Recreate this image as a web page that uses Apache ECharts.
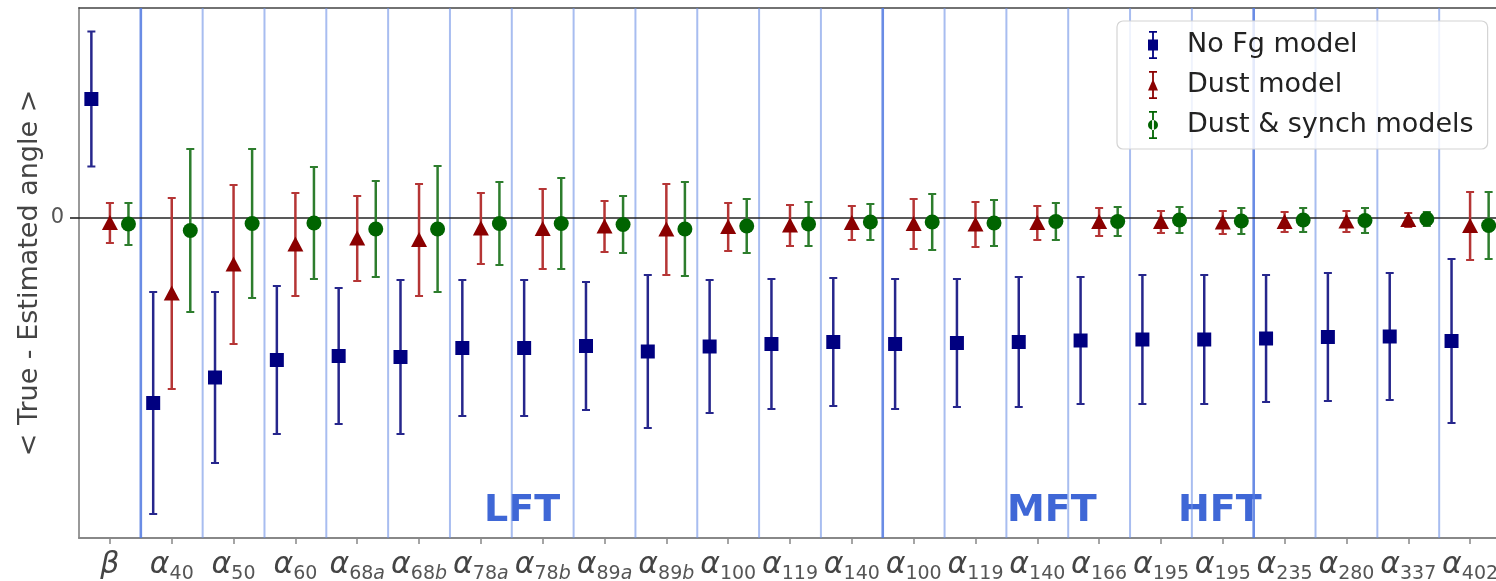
<!DOCTYPE html>
<html>
<head>
<meta charset="utf-8">
<script src="https://cdn.jsdelivr.net/npm/echarts@6/dist/echarts.min.js"></script>
<style>
  html, body { margin: 0; padding: 0; background: #ffffff; }
  #chart { width: 1496px; height: 581px; }
</style>
</head>
<body>
<div id="chart"></div>
<script>
// Parameters along the x axis: spectral index beta, then one rotation angle per frequency band
const paramSymbols = ['β', 'α', 'α', 'α', 'α', 'α', 'α', 'α', 'α', 'α', 'α', 'α', 'α', 'α', 'α', 'α', 'α', 'α', 'α', 'α', 'α', 'α', 'α'];
const bandFreqs = ['', '40', '50', '60', '68', '68', '78', '78', '89', '89', '100', '119', '140', '100', '119', '140', '166', '195', '195', '235', '280', '337', '402'];
const bandSuffix = ['', '', '', '', 'a', 'b', 'a', 'b', 'a', 'b', '', '', '', '', '', '', '', '', '', '', '', '', ''];
const categories = paramSymbols.map((s, i) => s + bandFreqs[i] + bandSuffix[i]);

// Thick separators after these category indices (beta | LFT | MFT | HFT)
const instrumentEdges = [0, 12, 18];
const instrumentNames = ['LFT', 'MFT', 'HFT'];

// < true - estimated > and its spread, per parameter
const noFgMean  = [1.19, -1.85, -1.595, -1.42, -1.38, -1.39, -1.30, -1.30, -1.28, -1.335, -1.285, -1.26, -1.24, -1.26, -1.25, -1.24, -1.225, -1.215, -1.215, -1.205, -1.19, -1.185, -1.23];
const noFgErr   = [0.675, 1.11, 0.855, 0.74, 0.68, 0.77, 0.68, 0.68, 0.64, 0.765, 0.665, 0.65, 0.64, 0.65, 0.64, 0.65, 0.635, 0.645, 0.645, 0.635, 0.64, 0.635, 0.82];
const dustMean  = [-0.05, -0.755, -0.465, -0.265, -0.205, -0.22, -0.105, -0.11, -0.085, -0.115, -0.09, -0.075, -0.05, -0.06, -0.065, -0.05, -0.04, -0.04, -0.045, -0.04, -0.035, -0.02, -0.08];
const dustErr   = [0.20, 0.955, 0.795, 0.515, 0.425, 0.56, 0.355, 0.40, 0.255, 0.455, 0.24, 0.205, 0.17, 0.25, 0.225, 0.17, 0.14, 0.11, 0.115, 0.10, 0.105, 0.07, 0.34];
const synchMean = [-0.06, -0.125, -0.055, -0.05, -0.11, -0.11, -0.055, -0.055, -0.065, -0.11, -0.08, -0.06, -0.04, -0.04, -0.05, -0.035, -0.035, -0.02, -0.03, -0.02, -0.025, -0.01, -0.075];
const synchErr  = [0.21, 0.815, 0.745, 0.56, 0.48, 0.63, 0.415, 0.455, 0.285, 0.47, 0.27, 0.22, 0.18, 0.28, 0.23, 0.185, 0.145, 0.13, 0.13, 0.12, 0.125, 0.07, 0.335];

const FONT = 'DejaVu Sans';

// Legend glyphs: a capped error bar with the model's marker on it
const BAR_ICON = 'M1,0H9V1.8H1Z M4.1,0H5.9V28H4.1Z M1,26.2H9V28H1Z ';
const ICONS = {
  square: 'path://' + BAR_ICON + 'M0,8.5H10V19.5H0Z',
  triangle: 'path://' + BAR_ICON + 'M0,19.5L5,8L10,19.5Z',
  circle: 'path://' + BAR_ICON + 'M0,14A5,5,0,1,0,10,14A5,5,0,1,0,0,14Z'
};

function toRows(means, errs) {
  return means.map((m, i) => [i, m, errs[i]]);
}

function errorBarRenderer(offsetFrac, shape, barColor) {
  return function (params, api) {
    const i = api.value(0), m = api.value(1), e = api.value(2);
    const band = api.size([1, 0])[0];
    const c = api.coord([i, m]);
    const x = c[0] + band * offsetFrac;
    const yc = c[1];
    const yt = api.coord([i, m + e])[1];
    const yb = api.coord([i, m - e])[1];
    const color = api.visual('color');
    const children = [
      { type: 'line', shape: { x1: x, y1: yt, x2: x, y2: yb }, style: { stroke: barColor, lineWidth: 2.5 } },
      { type: 'line', shape: { x1: x - 4, y1: yt, x2: x + 4, y2: yt }, style: { stroke: barColor, lineWidth: 2 } },
      { type: 'line', shape: { x1: x - 4, y1: yb, x2: x + 4, y2: yb }, style: { stroke: barColor, lineWidth: 2 } }
    ];
    if (shape === 'square') {
      children.push({ type: 'rect', shape: { x: x - 7, y: yc - 7, width: 14, height: 14 }, style: { fill: color } });
    } else if (shape === 'triangle') {
      children.push({ type: 'polygon', shape: { points: [[x, yc - 8], [x - 8, yc + 7], [x + 8, yc + 7]] }, style: { fill: color } });
    } else {
      children.push({ type: 'circle', shape: { cx: x, cy: yc, r: 7.5 }, style: { fill: color } });
    }
    return { type: 'group', children: children };
  };
}

const models = [
  { name: 'No Fg model', mean: noFgMean, err: noFgErr, offset: -0.3, shape: 'square', color: '#000080', bar: '#26268c' },
  { name: 'Dust model', mean: dustMean, err: dustErr, offset: 0, shape: 'triangle', color: '#8b0000', bar: '#b53535' },
  { name: 'Dust & synch models', mean: synchMean, err: synchErr, offset: 0.3, shape: 'circle', color: '#006400', bar: '#2d7d2d' }
];

const dividerRows = categories.slice(0, -1).map((_, i) => [i, instrumentEdges.indexOf(i) >= 0 ? 1 : 0]);

const chart = echarts.init(document.getElementById('chart'), null, { renderer: 'canvas' });

const series = [
  {
    name: 'dividers',
    type: 'custom',
    z: 1,
    silent: true,
    data: dividerRows,
    encode: { x: 0 },
    renderItem: function (params, api) {
      const i = api.value(0);
      const thick = api.value(1) === 1;
      const band = api.size([1, 0])[0];
      const x = api.coord([i, 0])[0] + band / 2;
      const cs = params.coordSys;
      return {
        type: 'line',
        shape: { x1: x, y1: cs.y, x2: x, y2: cs.y + cs.height },
        style: { stroke: thick ? 'rgba(80,120,225,0.85)' : 'rgba(110,145,230,0.6)', lineWidth: thick ? 2.6 : 2 }
      };
    }
  },
  {
    name: 'zero',
    type: 'custom',
    z: 2,
    silent: true,
    data: [[0, 0]],
    renderItem: function (params, api) {
      const y = api.coord([0, api.value(1)])[1];
      const cs = params.coordSys;
      return { type: 'line', shape: { x1: cs.x, y1: y, x2: cs.x + cs.width, y2: y }, style: { stroke: '#222', lineWidth: 1.6 } };
    }
  }
].concat(models.map((md, k) => ({
  name: md.name,
  type: 'custom',
  z: 3 + k,
  silent: true,
  itemStyle: { color: md.color },
  data: toRows(md.mean, md.err),
  encode: { x: 0, y: 1 },
  renderItem: errorBarRenderer(md.offset, md.shape, md.bar)
})));

const option = {
  animation: false,
  backgroundColor: '#ffffff',
  grid: {
    left: 79, top: 8, width: 1422, height: 530,
    show: false,
    outerBoundsMode: 'none', containLabel: false
  },
  legend: {
    orient: 'vertical',
    left: 1117, top: 21,
    padding: [10, 14, 10, 31],
    itemWidth: 46, itemHeight: 28, itemGap: 12,
    backgroundColor: 'rgba(255,255,255,0.82)',
    borderColor: '#d4d4d4', borderWidth: 1.2, borderRadius: 6,
    selectedMode: false,
    data: models.map((md) => ({ name: md.name, icon: ICONS[md.shape] })),
    textStyle: { fontFamily: FONT, fontSize: 27, lineHeight: 28, color: '#222', padding: [0, 0, 0, 6] }
  },
  xAxis: [
    {
      type: 'category',
      data: categories,
      position: 'bottom',
      boundaryGap: true,
      axisLine: { show: true, onZero: false, lineStyle: { color: '#888', width: 2 } },
      axisTick: { show: true, alignWithLabel: true, interval: 0, length: 6, lineStyle: { color: '#888', width: 1.5 } },
      splitLine: { show: false },
      axisLabel: {
        interval: 0,
        margin: 12,
        formatter: function (value, index) {
          let s = '{a|' + paramSymbols[index] + '}';
          if (bandFreqs[index]) s += '{s|' + bandFreqs[index] + '}';
          if (bandSuffix[index]) s += '{si|' + bandSuffix[index] + '}';
          return s;
        },
        rich: {
          a: { fontFamily: FONT, fontStyle: 'italic', fontSize: 30, color: '#444', lineHeight: 34, verticalAlign: 'top' },
          s: { fontFamily: FONT, fontSize: 19, color: '#555', lineHeight: 22, verticalAlign: 'bottom' },
          si: { fontFamily: FONT, fontStyle: 'italic', fontSize: 19, color: '#555', lineHeight: 22, verticalAlign: 'bottom' }
        }
      }
    },
    {
      // top spine of the frame
      type: 'category',
      data: categories,
      position: 'top',
      axisLine: { show: true, onZero: false, lineStyle: { color: '#444', width: 1.6 } },
      axisTick: { show: false },
      axisLabel: { show: false },
      splitLine: { show: false }
    }
  ],
  yAxis: {
    type: 'value',
    min: -3.2,
    max: 2.1,
    name: '< True - Estimated angle >',
    nameLocation: 'middle',
    nameRotate: 90,
    nameGap: 36,
    nameMoveOverlap: false,
    nameTextStyle: { fontFamily: FONT, fontSize: 27, color: '#444' },
    axisLine: { show: true, onZero: false, lineStyle: { color: '#999', width: 2 } },
    axisTick: { show: true, customValues: [0], length: 9, lineStyle: { color: '#222', width: 1.6 } },
    axisLabel: { show: true, customValues: [0], margin: 15, fontFamily: FONT, fontSize: 21, color: '#555' },
    splitLine: { show: false }
  },
  graphic: [
    { type: 'text', left: 484, top: 492, z: 0, style: { text: instrumentNames[0], font: 'bold 38px "DejaVu Sans"', fill: '#3f67d6' } },
    { type: 'text', left: 1007, top: 492, z: 0, style: { text: instrumentNames[1], font: 'bold 38px "DejaVu Sans"', fill: '#3f67d6' } },
    { type: 'text', left: 1178, top: 492, z: 0, style: { text: instrumentNames[2], font: 'bold 38px "DejaVu Sans"', fill: '#3f67d6' } }
  ],
  series: series
};

chart.setOption(option);
</script>
</body>
</html>
